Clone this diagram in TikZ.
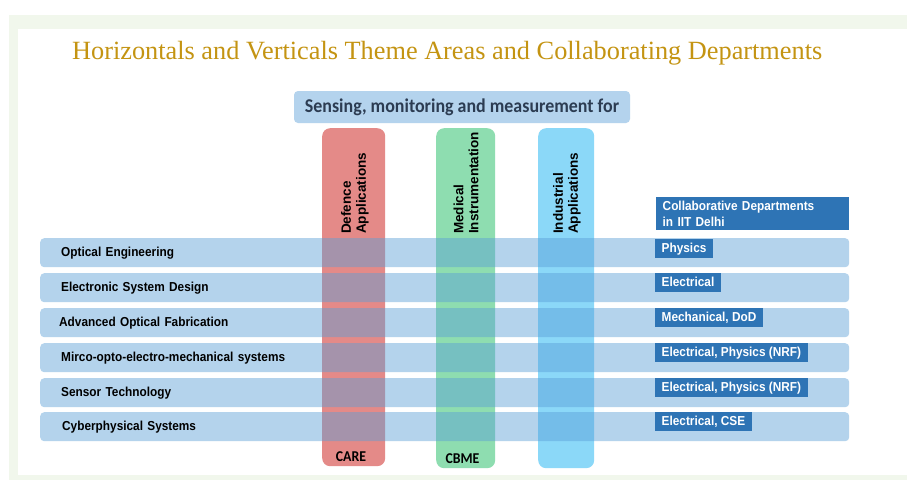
\documentclass[tikz,border=0pt]{standalone}
\usepackage{fontspec}
\setmainfont{Liberation Serif}
\newfontfamily\lblfont[FakeStretch=0.91]{Liberation Sans}
\newfontfamily\colfont{Liberation Sans}
\newfontfamily\calfont[FakeStretch=0.92]{Carlito}
\definecolor{bggreen}{RGB}{241,247,236}
\definecolor{titlegold}{RGB}{196,148,18}
\definecolor{headblue}{RGB}{180,211,237}
\definecolor{headtext}{RGB}{44,60,82}
\definecolor{rowblue}{RGB}{89,158,215}
\definecolor{carered}{RGB}{228,138,136}
\definecolor{cbmegreen}{RGB}{142,221,176}
\definecolor{indblue}{RGB}{139,216,248}
\definecolor{deptblue}{RGB}{46,116,181}
\tikzset{
  column/.style={anchor=north west, rounded corners=8pt, inner sep=0pt, draw=none},
  collabel/.style={rotate=90, anchor=west, align=left, inner sep=0pt,
    font=\colfont\bfseries\fontsize{13.5}{15}\selectfont},
  themerow/.style={anchor=north west, fill=rowblue, fill opacity=0.45, text opacity=1,
    rounded corners=4pt, minimum width=809pt, minimum height=29pt, inner xsep=21pt,
    inner ysep=0pt, text width=767pt, align=left, text height=9.5pt, text depth=2.5pt,
    font=\lblfont\bfseries\fontsize{13}{15}\selectfont},
  dept/.style={anchor=north west, fill=deptblue, text=white, inner xsep=6.5pt,
    inner ysep=3.5pt, text height=9.5pt, text depth=2.5pt,
    font=\lblfont\bfseries\fontsize{13}{15}\selectfont},
  centre/.style={font=\calfont\bfseries\fontsize{15}{17}\selectfont, text=black, inner sep=0pt}
}
\begin{document}
\begin{tikzpicture}[x=1pt,y=-1pt]
  \useasboundingbox (0,0) rectangle (907,480);
  % page frame
  \fill[bggreen] (9,15) rectangle (907,480);
  \fill[white] (18,29) rectangle (907,475);
  \node[anchor=base west, inner sep=0pt, text=titlegold, font=\fontsize{26.3}{30}\selectfont]
    (title) at (72,59) {Horizontals and Verticals Theme Areas and Collaborating Departments};
  \node[fill=headblue, rounded corners=4pt, minimum width=336pt, minimum height=32pt,
    inner sep=0pt, text=headtext, font=\calfont\bfseries\fontsize{19.5}{22}\selectfont]
    (sense) at (462,107) {Sensing, monitoring and measurement for};
  % verticals
  \node[column, fill=carered, minimum width=63pt, minimum height=338pt] (care) at (322,128) {};
  \node[column, fill=cbmegreen, minimum width=59pt, minimum height=340pt] (cbme) at (436,128) {};
  \node[column, fill=indblue, minimum width=56pt, minimum height=340pt] (ind) at (538,128) {};
  \node[collabel] (defl) at (355,234) {Defence\\Applications};
  \node[collabel] (medl) at (466,234) {Medical\\Instrumentation};
  \node[collabel] (indl) at (567,234) {Industrial\\Applications};
  \node[centre] (carel) at (351,457) {CARE};
  \node[centre] (cbmel) at (462.5,458.5) {CBME};
  % horizontals
  \node[themerow] (oe) at (40,238) {Optical Engineering};
  \node[themerow] (esd) at (40,273) {Electronic System Design};
  \node[themerow, inner xsep=19pt, text width=771pt] (aof) at (40,308) {Advanced Optical Fabrication};
  \node[themerow] (moems) at (40,343) {Mirco-opto-electro-mechanical systems};
  \node[themerow] (st) at (40,378) {Sensor Technology};
  \node[themerow, inner xsep=22pt, text width=765pt] (cps) at (40,412) {Cyberphysical Systems};
  % departments
  \node[dept, minimum width=193pt, minimum height=33pt, text width=180pt, align=left,
    text height=, text depth=, inner ysep=2pt, font=\lblfont\bfseries\fontsize{13}{13.5}\selectfont]
    (depthead) at (656,197) {\vspace{2pt}Collaborative Departments\\in IIT Delhi};
  \node[dept] (d1) at (655,239) {Physics};
  \node[dept] (d2) at (655,273) {Electrical};
  \node[dept] (d3) at (655,308) {Mechanical, DoD};
  \node[dept] (d4) at (655,343) {Electrical, Physics (NRF)};
  \node[dept] (d5) at (655,378) {Electrical, Physics (NRF)};
  \node[dept] (d6) at (655,412) {Electrical, CSE};
\end{tikzpicture}
\end{document}
